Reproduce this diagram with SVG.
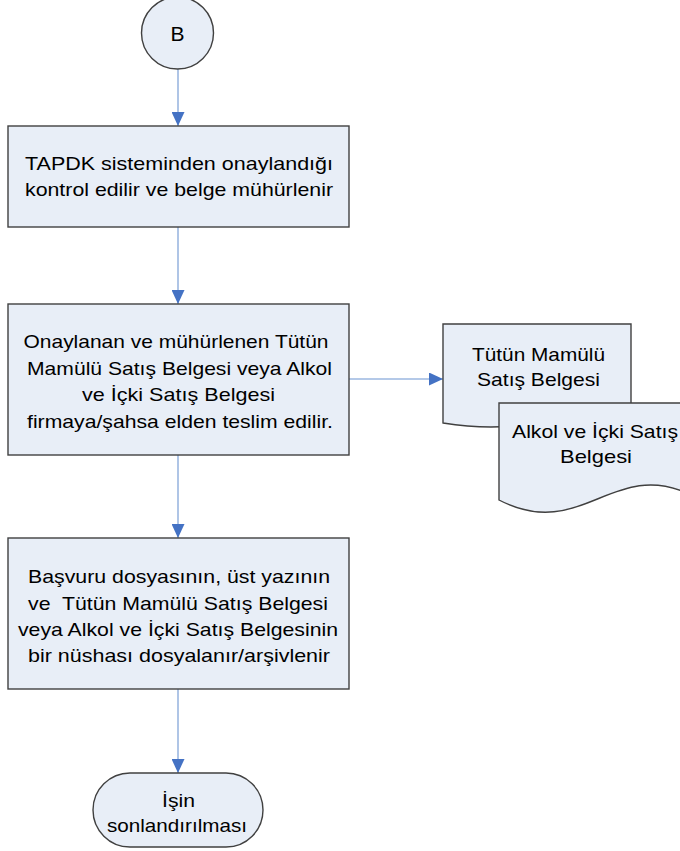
<svg xmlns="http://www.w3.org/2000/svg" width="680" height="851" viewBox="0 0 680 851">
<style>
.shape{fill:#E8EEF7;stroke:#404040;stroke-width:1.4}
.conn{fill:none;stroke:#9BB7E0;stroke-width:1.6}
.t{font-family:"Liberation Sans",Arial,sans-serif;font-size:19px;fill:#000;text-anchor:middle;white-space:pre}
</style>
<defs>
<marker id="arr" markerUnits="userSpaceOnUse" markerWidth="14" markerHeight="13" refX="14" refY="6.5" orient="auto">
<path d="M0,0 L14,6.5 L0,13 z" fill="#4472C4"/>
</marker>
</defs>
<g id="connectors">
<line class="conn" x1="178" y1="69" x2="178" y2="126" marker-end="url(#arr)"/>
<line class="conn" x1="178" y1="227" x2="178" y2="304" marker-end="url(#arr)"/>
<line class="conn" x1="178" y1="455" x2="178" y2="538" marker-end="url(#arr)"/>
<line class="conn" x1="178" y1="689" x2="178" y2="773" marker-end="url(#arr)"/>
<line class="conn" x1="349" y1="379" x2="443" y2="379" marker-end="url(#arr)"/>
</g>
<g id="nodeB">
<circle class="shape" cx="177.5" cy="33" r="36"/>
<text class="t" x="177.5" y="41" style="font-size:21px">B</text>
</g>
<g id="box1">
<rect class="shape" x="8" y="126" width="341" height="101"/>
<text class="t" x="179" y="170" textLength="308" lengthAdjust="spacingAndGlyphs">TAPDK sisteminden onaylandığı</text>
<text class="t" x="179" y="196" textLength="308" lengthAdjust="spacingAndGlyphs">kontrol edilir ve belge mühürlenir</text>
</g>
<g id="box2">
<rect class="shape" x="8" y="304" width="341" height="151"/>
<text class="t" x="176" y="348" textLength="305" lengthAdjust="spacingAndGlyphs">Onaylanan ve mühürlenen Tütün</text>
<text class="t" x="179.5" y="375" textLength="305" lengthAdjust="spacingAndGlyphs">Mamülü Satış Belgesi veya Alkol</text>
<text class="t" x="178.5" y="401" textLength="193" lengthAdjust="spacingAndGlyphs">ve İçki Satış Belgesi</text>
<text class="t" x="180" y="428" textLength="306" lengthAdjust="spacingAndGlyphs">firmaya/şahsa elden teslim edilir.</text>
</g>
<g id="doc1">
<path class="shape" d="M443,324 H631 V416 C573.2,401 542.6,439 443,423 Z"/>
<text class="t" x="538.5" y="361" textLength="133" lengthAdjust="spacingAndGlyphs">Tütün Mamülü</text>
<text class="t" x="538.5" y="386" textLength="123" lengthAdjust="spacingAndGlyphs">Satış Belgesi</text>
</g>
<g id="doc2">
<path class="shape" d="M499,403 H687 V493 C612,460 580,542 499,500 Z"/>
<text class="t" x="595" y="438" textLength="166" lengthAdjust="spacingAndGlyphs">Alkol ve İçki Satış</text>
<text class="t" x="596" y="463" textLength="72" lengthAdjust="spacingAndGlyphs">Belgesi</text>
</g>
<g id="box3">
<rect class="shape" x="8" y="538" width="341" height="151"/>
<text class="t" x="179" y="583" textLength="302" lengthAdjust="spacingAndGlyphs">Başvuru dosyasının, üst yazının</text>
<text class="t" x="178" y="610" textLength="300" lengthAdjust="spacingAndGlyphs">ve  Tütün Mamülü Satış Belgesi</text>
<text class="t" x="178" y="636" textLength="320" lengthAdjust="spacingAndGlyphs">veya Alkol ve İçki Satış Belgesinin</text>
<text class="t" x="179" y="662" textLength="302" lengthAdjust="spacingAndGlyphs">bir nüshası dosyalanır/arşivlenir</text>
</g>
<g id="end">
<rect class="shape" x="93" y="773" width="170" height="74" rx="37" ry="37"/>
<text class="t" x="178.5" y="807" textLength="33" lengthAdjust="spacingAndGlyphs">İşin</text>
<text class="t" x="177" y="832" textLength="140" lengthAdjust="spacingAndGlyphs">sonlandırılması</text>
</g>
</svg>
